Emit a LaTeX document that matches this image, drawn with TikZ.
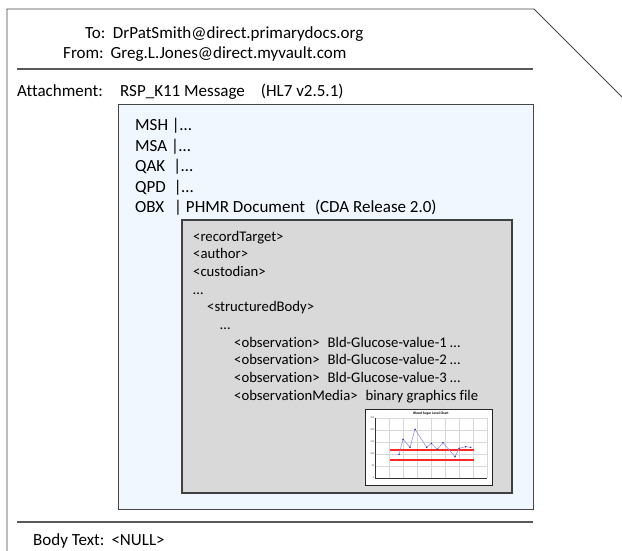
\documentclass[tikz,border=0pt]{standalone}
\usepackage{fontspec}
\setmainfont{Carlito}[Ligatures={NoCommon}]
\definecolor{msgblue}{RGB}{240,247,254}
\definecolor{docgray}{RGB}{217,217,217}
\definecolor{linegray}{RGB}{70,70,70}
\definecolor{gridgray}{RGB}{215,215,215}
\definecolor{plotblue}{RGB}{150,150,225}
\definecolor{dotblue}{RGB}{40,40,160}
\definecolor{limitred}{RGB}{255,40,40}
\begin{document}
\begin{tikzpicture}[x=1pt,y=-1pt,
  frameline/.style={draw=linegray, line width=0.9pt},
  sepline/.style={draw=black!65, line width=1.5pt},
  msgbox/.style={draw=linegray, line width=0.9pt, fill=msgblue},
  docbox/.style={draw=black!75, line width=1.3pt, fill=docgray},
  chartbox/.style={draw=black!85, line width=1pt, fill=white},
  bigtxt/.style={anchor=base west, inner sep=0pt, font=\fontsize{17}{20}\selectfont},
  smalltxt/.style={anchor=base west, inner sep=0pt, font=\fontsize{14.7}{17.7}\selectfont},
  gridline/.style={draw=gridgray, line width=0.35pt},
  axisline/.style={draw=black!80, line width=0.5pt},
  tinytxt/.style={inner sep=0pt, font=\fontsize{2.6}{3}\selectfont, text=black!70},
  titletxt/.style={inner sep=0pt, font=\bfseries\fontsize{3.6}{4}\selectfont},
  datadot/.style={fill=dotblue},
  limitbar/.style={fill=limitred, draw=none}]
\useasboundingbox (0,0) rectangle (622,551);
\fill[white] (0,0) rectangle (622,551);

% outer envelope frame
\coordinate (fa) at (7,551);
\coordinate (fb) at (7,9);
\coordinate (fc) at (534,9);
\coordinate (fd) at (622,97);
\draw[frameline] (fa) -- (fb) -- (fc) -- (fd);

% separators
\coordinate (s1a) at (17,69);
\coordinate (s1b) at (533,69);
\coordinate (s2a) at (17,522);
\coordinate (s2b) at (533,522);
\draw[sepline] (s1a) -- (s1b);
\draw[sepline] (s2a) -- (s2b);

% header
\node[bigtxt] (to) at (85,38.5) {To:\hspace{7.5pt}DrPatSmith@direct.primarydocs.org};
\node[bigtxt] (from) at (63,59) {From:\hspace{7pt}Greg.L.Jones@direct.myvault.com};
\node[bigtxt] (attlbl) at (17,97) {Attachment:};
\node[bigtxt] (attval) at (120,97) {RSP\_K11 Message\hspace{16pt}(HL7 v2.5.1)};

% message box
\draw[msgbox] (118,104) rectangle (533,509);
\node[bigtxt] (msh) at (135,130.5) {MSH |…};
\node[bigtxt] (msa) at (135,151) {MSA |…};
\node[bigtxt] (qak) at (135,171.5) {QAK\hspace{8pt}|…};
\node[bigtxt] (qpd) at (135,192) {QPD\hspace{8pt}|…};
\node[bigtxt] (obx) at (135,212.5) {OBX\hspace{10pt}|\hspace{4pt}PHMR Document\hspace{10pt}(CDA Release 2.0)};

% document box
\draw[docbox] (182,220) rectangle (512,493);
\node[smalltxt] (l1) at (193,241) {<recordTarget>};
\node[smalltxt] (l2) at (193,258.7) {<author>};
\node[smalltxt] (l3) at (193,276.4) {<custodian>};
\node[smalltxt] (l4) at (193,294.1) {…};
\node[smalltxt] (l5) at (207,311.8) {<structuredBody>};
\node[smalltxt] (l6) at (220,329.5) {…};
\node[smalltxt] (l7) at (234,347.2) {<observation>\hspace{8pt}Bld-Glucose-value-1 …};
\node[smalltxt] (l8) at (234,364.9) {<observation>\hspace{8pt}Bld-Glucose-value-2 …};
\node[smalltxt] (l9) at (234,382.6) {<observation>\hspace{8pt}Bld-Glucose-value-3 …};
\node[smalltxt] (l10) at (234,400.3) {<observationMedia>\hspace{8pt}binary graphics file};

% chart thumbnail
\draw[chartbox] (365,409) rectangle (492,485);
\begin{scope}[shift={(365,409)}]
  \foreach \yy in {8.7,20.8,32.9,45,57.1} \draw[gridline] (10.7,\yy) -- (122,\yy);
  \foreach \xx in {24.6,38.5,52.4,66.3,80.2,94.1,108,122} \draw[gridline] (\xx,8.7) -- (\xx,69);
  \draw[axisline] (10.7,8.7) -- (10.7,69) -- (122,69);
  \foreach \yy/\lab [count=\i] in {8.7/250,20.8/200,32.9/150,45/100,57.1/50,69/0}
    \node[tinytxt, anchor=east] (yl\i) at (9.5,\yy) {\lab};
  \node[titletxt] (ctitle) at (66,4.5) {Blood Sugar Level Chart};
  \fill[limitbar] (24.6,39.5) rectangle (109,41.5);
  \fill[limitbar] (24.6,49.5) rectangle (109,51.5);
  \draw[draw=plotblue, line width=0.6pt] (34,45.3) -- (38,30.3) -- (45,38.3) -- (50,20.3) -- (61.7,38.3) -- (66.3,34.3) -- (72.3,40.3) -- (78,33.7) -- (90,47.7) -- (94,39.3) -- (100.7,37.7) -- (105.7,38.3);
  \foreach \px/\py in {34/45.3,38/30.3,45/38.3,50/20.3,61.7/38.3,66.3/34.3,72.3/40.3,78/33.7,90/47.7,94/39.3,100.7/37.7,105.7/38.3}
    \fill[datadot] (\px,\py) circle (0.8);
\end{scope}

% body text
\node[bigtxt] (body) at (33,545.5) {Body Text:\hspace{7pt}<NULL>};
\end{tikzpicture}
\end{document}
